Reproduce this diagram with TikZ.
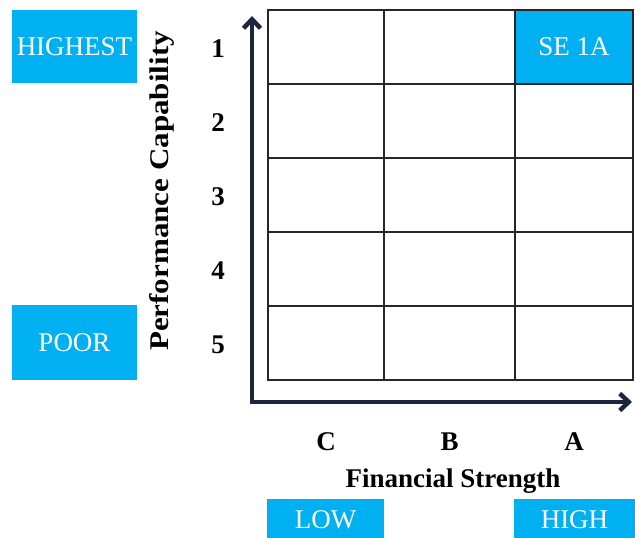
\documentclass[tikz,border=0pt]{standalone}
\usepackage{fontspec}
\setmainfont{Liberation Serif}
\usetikzlibrary{arrows.meta,positioning}
\definecolor{tagblue}{RGB}{0,176,240}
\definecolor{axisnavy}{RGB}{28,38,62}
\begin{document}
\begin{tikzpicture}[
    x=1pt, y=-1pt,
    cell/.style={draw=black!85, line width=1.3pt, minimum height=74pt, inner sep=0pt},
    tag/.style={fill=tagblue, text=white, inner sep=0pt, font=\fontsize{27}{30}\selectfont},
    lbl/.style={font=\bfseries\fontsize{27}{30}\selectfont},
    axis/.style={draw=axisnavy, line width=4pt, line join=miter,
      {Straight Barb[length=9pt,width=17pt,line width=4.5pt]}-{Straight Barb[length=9pt,width=17pt,line width=4.5pt]}}
  ]
  \useasboundingbox (0,0) rectangle (635,538);

  % grid of ratings
  \foreach \r/\y in {1/47,2/121,3/195,4/269,5/343} {
    \foreach \c/\x/\w in {C/326/116,B/449.5/131,A/574/118}
      \node[cell, minimum width=\w pt] (c-\r-\c) at (\x,\y) {};
    \node[lbl] (r-\r) at (218,\y+2) {\r};
  }
  \node[cell, fill=tagblue, minimum width=118pt, text=white,
    font=\fontsize{27}{30}\selectfont] (se) at (574,47) {SE 1A};

  \foreach \c in {C,B,A}
    \node[lbl] (k-\c) at (c-5-\c |- 0,442) {\c};

  % axes
  \coordinate (o) at (252,402);
  \coordinate (ytop) at (252,16);
  \coordinate (xend) at (632,402);
  \draw[axis] (ytop) -- (o) -- (xend);

  \node[lbl, rotate=90, xscale=1.15] (perf) at (162,191) {Performance Capability};
  \node[lbl] (fin) at (453,481) {Financial Strength};

  \node[tag, minimum width=125pt, minimum height=73pt] (high) at (74.5,46.5) {HIGHEST};
  \node[tag, minimum width=125pt, minimum height=75pt] (poor) at (74.5,342.5) {POOR};
  \node[tag, minimum width=117pt, minimum height=41pt] (low) at (325.5,519.5) {LOW};
  \node[tag, minimum width=121pt, minimum height=41pt] (hi) at (574.5,519.5) {HIGH};
\end{tikzpicture}
\end{document}
